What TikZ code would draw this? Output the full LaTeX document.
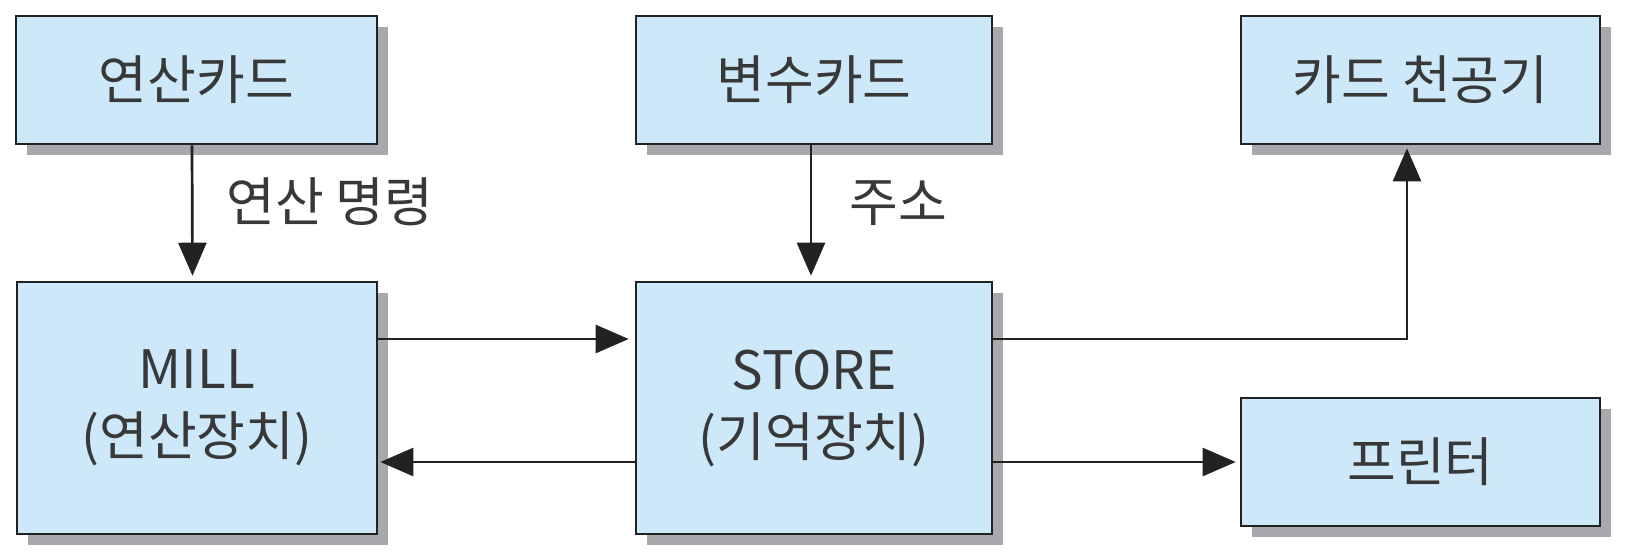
\documentclass[tikz,border=0pt]{standalone}
\usepackage{fontspec}
\setmainfont{Noto Sans CJK KR}
\usetikzlibrary{arrows.meta,shadows}
\definecolor{boxfill}{HTML}{CDE8F9}
\definecolor{shgray}{HTML}{A7A9AC}
\definecolor{edge}{HTML}{222222}
\definecolor{txt}{HTML}{383838}
\begin{document}
\begin{tikzpicture}[x=0.5pt,y=-0.5pt,
  blockbox/.style={draw=edge, line width=1.3pt, fill=boxfill, text=txt,
    inner sep=0pt, align=center,
    font=\fontsize{26.5pt}{33.5pt}\selectfont,
    drop shadow={shadow xshift=5.5pt, shadow yshift=-5.5pt, fill=shgray, opacity=1}},
  conn/.style={draw=edge, line width=1.35pt, -{Triangle[length=16.5pt,width=14pt]}},
  lbl/.style={text=txt, inner sep=0pt, font=\fontsize{26.5pt}{30pt}\selectfont}]
\useasboundingbox (0,0) rectangle (1630,558);
\node[blockbox, minimum width=180.5pt, minimum height=64pt] (card1) at (196.5,80) {연산카드};
\node[blockbox, minimum width=178pt, minimum height=64pt] (card2) at (814,80) {변수카드};
\node[blockbox, minimum width=179.5pt, minimum height=64pt] (punch) at (1420.5,80) {카드 천공기};
\node[blockbox, minimum width=180pt, minimum height=126pt] (mill) at (197,408) {MILL\\(연산장치)};
\node[blockbox, minimum width=178pt, minimum height=126pt] (store) at (814,408) {STORE\\(기억장치)};
\node[blockbox, minimum width=179.5pt, minimum height=64pt] (printer) at (1420.5,462) {프린터};
\node[lbl] (l1) at (330,202) {연산 명령};
\node[lbl] (l2) at (898,203) {주소};
\draw[conn] ([xshift=-2.25pt]card1.south) -- ([xshift=-2.25pt,yshift=2.5pt]mill.north);
\draw[conn] ([xshift=-1.5pt]card2.south) -- ([xshift=-1.5pt,yshift=2.5pt]store.north);
\draw[conn] ([yshift=34.5pt]mill.east) -- ([yshift=34.5pt,xshift=-3pt]store.west);
\draw[conn] ([yshift=-27pt]store.west) -- ([yshift=-27pt,xshift=1pt]mill.east);
\draw[conn] ([yshift=34.5pt]store.east) -| ([xshift=-6.75pt,yshift=-1.5pt]punch.south);
\draw[conn] ([yshift=-27pt]store.east) -- ([xshift=-2pt]printer.west);
\end{tikzpicture}
\end{document}
